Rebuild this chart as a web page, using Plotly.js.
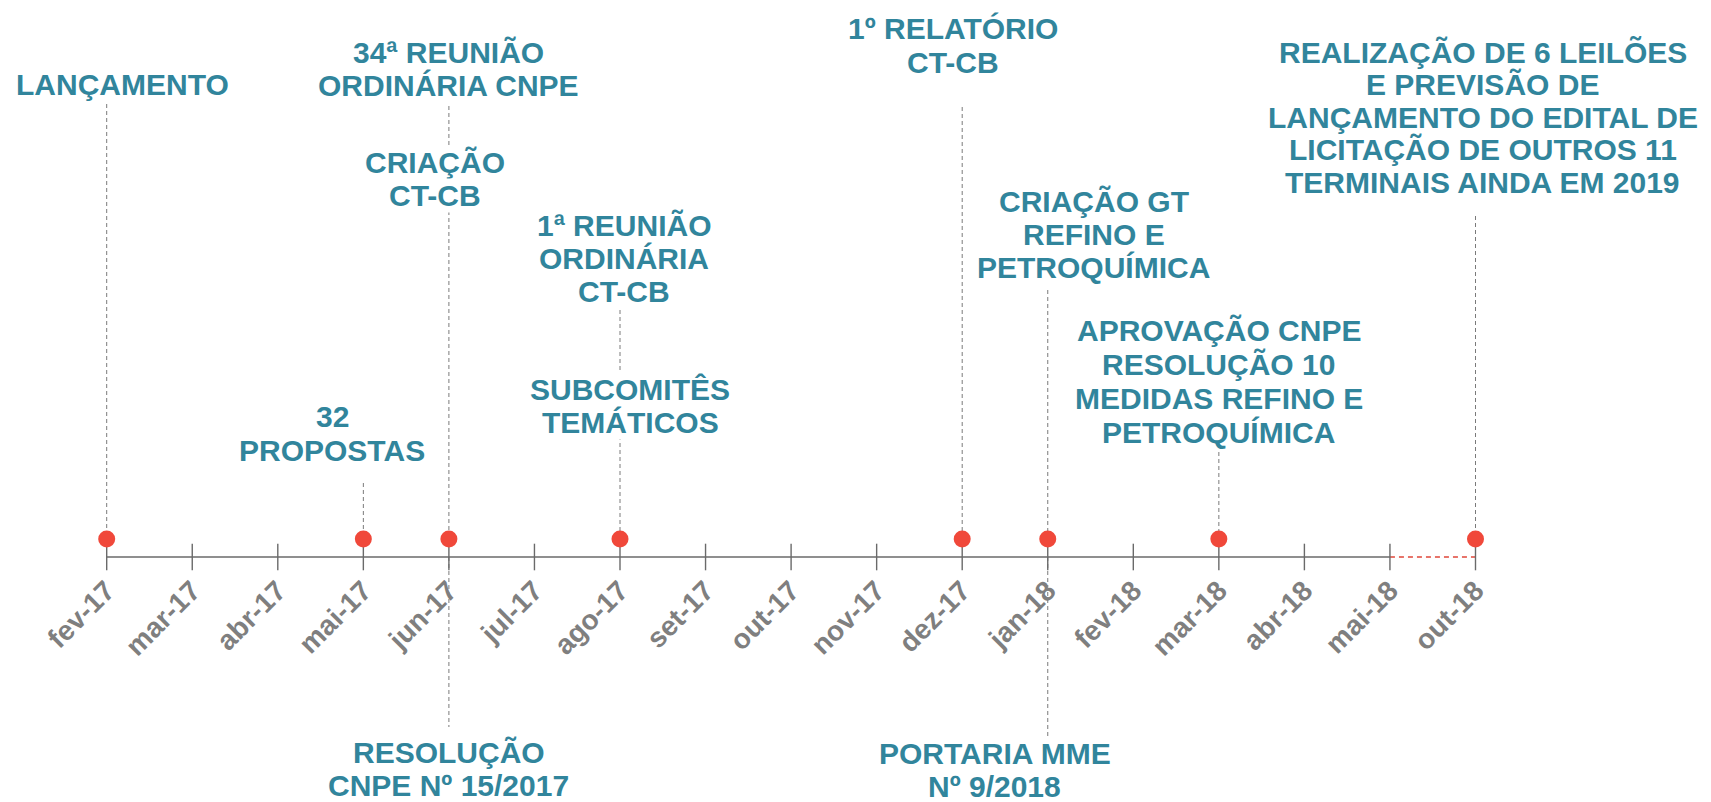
<!DOCTYPE html>
<html>
<head>
<meta charset="utf-8">
<script src="https://cdn.plot.ly/plotly-3.0.1.min.js"></script>
<style>html,body{margin:0;padding:0;background:#fff;}#chart{width:1711px;height:802px;}</style>
</head>
<body>
<div id="chart"></div>
<script>
// ---------------- DATA ----------------
const categories = ['fev-17','mar-17','abr-17','mai-17','jun-17','jul-17','ago-17','set-17',
                    'out-17','nov-17','dez-17','jan-18','fev-18','mar-18','abr-18','mai-18','out-18'];
const solidSpan = ['fev-17','mai-18'];      // confirmed part of the timeline
const forecastSpan = ['mai-18','out-18'];   // dashed (forecast) part
const milestoneMonths = ['fev-17','mai-17','jun-17','ago-17','dez-17','jan-18','mar-18','out-18'];

const aboveMonths = ['fev-17','jun-17','jun-17','mai-17','ago-17','ago-17','dez-17','jan-18','mar-18','out-18'];
const aboveTexts = [
  ['LANÇAMENTO'],
  ['34ª REUNIÃO','ORDINÁRIA CNPE'],
  ['CRIAÇÃO','CT-CB'],
  ['32','PROPOSTAS'],
  ['1ª REUNIÃO','ORDINÁRIA','CT-CB'],
  ['SUBCOMITÊS','TEMÁTICOS'],
  ['1º RELATÓRIO','CT-CB'],
  ['CRIAÇÃO GT','REFINO E','PETROQUÍMICA'],
  ['APROVAÇÃO CNPE','RESOLUÇÃO 10','MEDIDAS REFINO E','PETROQUÍMICA'],
  ['REALIZAÇÃO DE 6 LEILÕES','E PREVISÃO DE','LANÇAMENTO DO EDITAL DE','LICITAÇÃO DE OUTROS 11','TERMINAIS AINDA EM 2019']
];
const belowMonths = ['jun-17','jan-18'];
const belowTexts = [
  ['RESOLUÇÃO','CNPE Nº 15/2017'],
  ['PORTARIA MME','Nº 9/2018']
];

// ---------------- LAYOUT / STYLE (pixel positions, not data) ----------------
const W = 1711, H = 802;
const AXIS_PX = 557;           // vertical pixel of timeline
const DOT_LIFT = 18;           // dots sit above the line
const toY = px => AXIS_PX - px;
// first-line centre (px from top), line pitch, horizontal shift, white cover
const aboveFirstPx = [84, 52, 162, 416, 225, 389, 28, 201, 330, 52];
const abovePitch   = [32, 33, 33, 34, 33, 33, 34, 33, 34, 32.5];
const aboveDx      = [16, 0, -14, -31, 4, 10, -9, 46, 0, 7];
const aboveCover   = [false,false,true,false,false,true,false,false,false,false];
const leaderTopPx  = {'fev-17':104,'mai-17':483,'jun-17':106,'ago-17':310,'dez-17':107,'jan-18':290,'mar-18':452,'out-18':216};
const belowFirstPx = [752, 753];
const belowPitch   = [33, 33];
const belowDx      = [0, -53];
const belowLeaderEndPx = {'jun-17':727,'jan-18':737};

const TEAL = '#31859c', GREY = '#7f7f7f', RED = '#f0483a';
const labelFont = {family:'"Liberation Sans", Arial, sans-serif', size:30, color:TEAL, weight:'bold'};

// ---------------- TRACES ----------------
const traces = [];
const lx = [], ly = [];
milestoneMonths.forEach(m => { lx.push(m, m, null); ly.push(toY(leaderTopPx[m]), DOT_LIFT, null); });
belowMonths.forEach(m => { lx.push(m, m, null); ly.push(0, toY(belowLeaderEndPx[m]), null); });
traces.push({x:lx, y:ly, mode:'lines', line:{color:'#7a7a7a', width:1, dash:'4px,3px'}, hoverinfo:'skip'});
traces.push({x:solidSpan, y:[0,0], mode:'lines', line:{color:'#6a6a6a', width:1.4}, hoverinfo:'skip'});
traces.push({x:forecastSpan, y:[0,0], mode:'lines', line:{color:'#e0473a', width:1.3, dash:'5px,4px'}, hoverinfo:'skip'});
traces.push({x:categories, y:categories.map(()=>0), mode:'markers',
  marker:{symbol:'line-ns', size:19, line:{color:'#6a6a6a', width:1.4}}, hoverinfo:'skip', cliponaxis:false});
traces.push({x:milestoneMonths, y:milestoneMonths.map(()=>DOT_LIFT), mode:'markers',
  marker:{size:17, color:RED}, hoverinfo:'x', cliponaxis:false});

// ---------------- ANNOTATIONS ----------------
const annotations = [];
function addBlock(month, lines, firstPx, pitch, dx, cover){
  lines.forEach((t,i) => {
    annotations.push({x:month, y:toY(firstPx + i*pitch), xref:'x', yref:'y', text:t,
      showarrow:false, xshift:dx, xanchor:'center', yanchor:'middle', font:labelFont,
      bgcolor: cover ? '#ffffff' : 'rgba(0,0,0,0)', borderpad:0});
  });
}
aboveMonths.forEach((m,i) => addBlock(m, aboveTexts[i], aboveFirstPx[i], abovePitch[i], aboveDx[i], aboveCover[i]));
belowMonths.forEach((m,i) => addBlock(m, belowTexts[i], belowFirstPx[i], belowPitch[i], belowDx[i], false));

const pxPerCat = 85.55, firstCatPx = 106.7;
const layout = {
  width:W, height:H, margin:{l:0,r:0,t:0,b:0}, paper_bgcolor:'#fff', plot_bgcolor:'#fff',
  showlegend:false,
  xaxis:{type:'category', categoryorder:'array', categoryarray:categories,
    range:[-firstCatPx/pxPerCat, (W-firstCatPx)/pxPerCat],
    anchor:'free', position:(H-AXIS_PX)/H, showline:false, showgrid:false, zeroline:false,
    ticks:'outside', ticklen:5, tickcolor:'rgba(0,0,0,0)', tickangle:-45,
    tickfont:{family:'"Liberation Sans", Arial, sans-serif', size:28, color:GREY, weight:'bold'}},
  yaxis:{range:[AXIS_PX-H, AXIS_PX], visible:false, showgrid:false, zeroline:false, fixedrange:true},
  annotations:annotations
};
Plotly.newPlot('chart', traces, layout, {displayModeBar:false, staticPlot:true});
</script>
</body>
</html>
